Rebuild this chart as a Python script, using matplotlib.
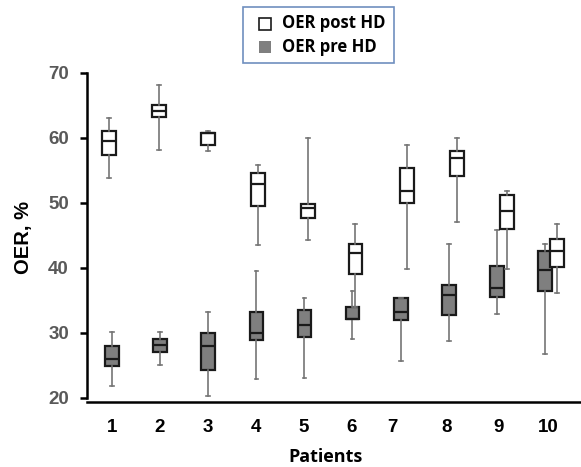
import matplotlib
matplotlib.use("Agg")
import matplotlib.pyplot as plt
from matplotlib.patches import Rectangle

# ---- data ----
patients = ["1", "2", "3", "4", "5", "6", "7", "8", "9", "10"]

post_whislo = [53.9, 58.2, 58.0, 43.5, 44.25, 34.0, 39.9, 47.0, 39.9, 36.1]
post_q1     = [57.4, 63.3, 58.9, 49.5, 47.75, 39.1, 50.05, 54.1, 45.95, 40.1]
post_med    = [59.5, 64.15, 60.7, 52.9, 49.3, 42.25, 51.85, 56.97, 48.8, 42.65]
post_q3     = [61.0, 65.1, 60.7, 54.6, 49.8, 43.75, 55.4, 58.0, 51.3, 44.45]
post_whishi = [63.0, 68.1, 61.0, 55.9, 60.0, 46.8, 58.9, 59.95, 51.85, 46.8]

pre_whislo = [21.8, 25.0, 20.25, 22.9, 23.1, 29.1, 25.7, 28.8, 32.9, 26.8]
pre_q1     = [24.9, 27.0, 24.35, 28.9, 29.35, 32.2, 31.95, 32.7, 35.5, 36.4]
pre_med    = [26.0, 28.1, 28.05, 29.95, 31.2, 32.2, 33.3, 35.9, 36.9, 39.75]
pre_q3     = [28.05, 29.1, 30.05, 33.3, 33.5, 33.95, 35.4, 37.45, 40.35, 42.65]
pre_whishi = [30.15, 30.15, 33.3, 39.5, 35.4, 36.5, 35.4, 43.75, 45.85, 43.75]

# ---- layout positions ----
pre_pos = [1.0, 2.0, 3.0, 4.01, 5.01, 6.01, 7.02, 8.02, 9.02, 10.02]
post_pos = [0.94, 1.98, 3.0, 4.04, 5.08, 6.07, 7.15, 8.19, 9.23, 10.27]
tick_pos = [1, 2, 3, 4, 5, 6, 6.85, 7.98, 9.06, 10.08]

W, H = 581, 467
fig = plt.figure(figsize=(W / 100, H / 100), dpi=100)
ax = fig.add_axes([87 / W, (H - 402) / H, 493 / W, 330.3 / H])


def stats(lo, q1, med, q3, hi):
    return [dict(whislo=a, q1=b, med=c, q3=d, whishi=e, fliers=[])
            for a, b, c, d, e in zip(lo, q1, med, q3, hi)]


common = dict(widths=0.28, patch_artist=True, showfliers=False,
              whiskerprops=dict(color="#757575", lw=1.2),
              capprops=dict(color="#757575", lw=1.2),
              medianprops=dict(color="#1a1a1a", lw=1.6))

ax.bxp(stats(pre_whislo, pre_q1, pre_med, pre_q3, pre_whishi),
       positions=pre_pos, capwidths=0.08,
       boxprops=dict(facecolor="#7f7f7f", edgecolor="#1a1a1a", lw=1.6),
       zorder=2, **common)
ax.bxp(stats(post_whislo, post_q1, post_med, post_q3, post_whishi),
       positions=post_pos, capwidths=0.08,
       boxprops=dict(facecolor="white", edgecolor="#1a1a1a", lw=1.6),
       zorder=3, **common)

ax.set_xlim(0.479, 10.75)
ax.set_ylim(19.38, 70.2)
ax.set_xticks(tick_pos)
ax.set_xticklabels(patients)
ax.set_yticks([20, 30, 40, 50, 60, 70])

for s in ["top", "right"]:
    ax.spines[s].set_visible(False)
ax.spines["left"].set_bounds(20, 70)
ax.spines["left"].set_linewidth(1.8)
ax.spines["bottom"].set_linewidth(1.8)

ax.tick_params(axis="x", length=0, pad=12)
ax.tick_params(axis="y", length=5, width=1.8, pad=8, direction="out")
for lab in ax.get_yticklabels():
    lab.set_fontfamily("Liberation Sans")
    lab.set_fontweight("bold")
    lab.set_fontsize(13.5)
    lab.set_color("#595959")
for lab in ax.get_xticklabels():
    lab.set_fontfamily("Liberation Sans")
    lab.set_fontweight("bold")
    lab.set_fontsize(13.5)
    lab.set_color("black")

fig.text(23 / W, 1 - 237 / H, "OER, %", rotation=90, ha="center", va="center",
         fontsize=14.5, fontweight="bold", family="Liberation Sans")
fig.text(325 / W, 1 - 457 / H, "Patients", ha="center", va="center",
         fontsize=13, fontweight="bold", family="Open Sans")

# ---- legend ----
fig.patches.append(Rectangle((243 / W, 1 - 63 / H), 151 / W, 56 / H,
                             transform=fig.transFigure, facecolor="white",
                             edgecolor="#6f8fbf", lw=1.2))
fig.patches.append(Rectangle((258.5 / W, 1 - 29.5 / H), 12 / W, 12 / H,
                             transform=fig.transFigure, facecolor="white",
                             edgecolor="#1a1a1a", lw=1.2))
fig.patches.append(Rectangle((258.5 / W, 1 - 53 / H), 12 / W, 12 / H,
                             transform=fig.transFigure, facecolor="#7f7f7f",
                             edgecolor="none"))
fig.text(282 / W, 1 - 23.5 / H, "OER post HD", ha="left", va="center",
         fontsize=12, fontweight="bold", family="Open Sans")
fig.text(282 / W, 1 - 47 / H, "OER pre HD", ha="left", va="center",
         fontsize=12, fontweight="bold", family="Open Sans")

fig.savefig("out.png", dpi=100)
